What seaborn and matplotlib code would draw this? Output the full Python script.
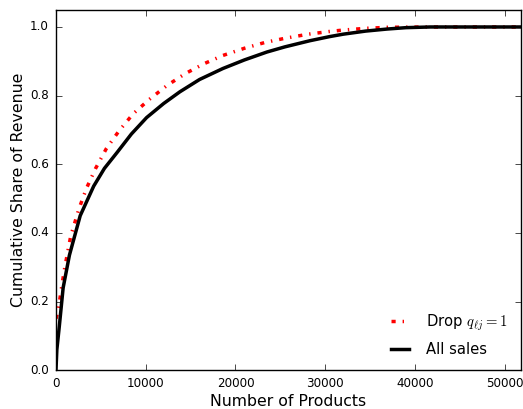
import numpy as np
import pandas as pd
import matplotlib
matplotlib.use('Agg')
import matplotlib.pyplot as plt
import seaborn as sns

# curves
all_x = [0, 100, 370, 800, 1500, 2700, 4200, 5400, 6800, 8400, 10100, 12000, 13800, 16000, 18600, 21000, 23500, 25500, 28300, 30500, 32000, 34500, 36900, 39000, 41700, 45000, 51800]
all_y = [0.0, 0.06, 0.127, 0.24, 0.335, 0.45, 0.536, 0.588, 0.634, 0.688, 0.736, 0.777, 0.811, 0.847, 0.879, 0.904, 0.927, 0.942, 0.960, 0.972, 0.979, 0.988, 0.994, 0.998, 1.0, 1.0, 1.0]
drop_x = [0, 260, 640, 1000, 1640, 2560, 3400, 4420, 5600, 7020, 8600, 10400, 12400, 14400, 16500, 18600, 21000, 23300, 25500, 28100, 30500, 32000, 34500, 36900, 41000, 51800]
drop_y = [0.15, 0.176, 0.244, 0.302, 0.39, 0.47, 0.53, 0.588, 0.645, 0.697, 0.747, 0.789, 0.830, 0.864, 0.893, 0.917, 0.938, 0.955, 0.967, 0.979, 0.987, 0.991, 0.996, 0.999, 1.0, 1.0]

plt.style.use('classic')
fig = plt.figure(figsize=(5.23, 4.09), dpi=100, facecolor='white')
ax = fig.add_axes([0.107, 0.095, 0.889, 0.881])
ax.set_facecolor('white')

drop = pd.DataFrame({'x': drop_x, 'y': drop_y})
alls = pd.DataFrame({'x': all_x, 'y': all_y})
sns.lineplot(data=drop, x='x', y='y', ax=ax, color='red', linewidth=2.5,
             linestyle='-.', label=r'Drop $q_{\ell j}=1$', estimator=None, sort=False)
sns.lineplot(data=alls, x='x', y='y', ax=ax, color='black', linewidth=2.5,
             label='All sales', estimator=None, sort=False)

ax.set_xlim(0, 51800)
ax.set_ylim(0, 1.05)
ax.set_xticks([0, 10000, 20000, 30000, 40000, 50000])
ax.set_yticks([0.0, 0.2, 0.4, 0.6, 0.8, 1.0])
ax.tick_params(labelsize=8.6, pad=5)
ax.set_xlabel('Number of Products', fontsize=11.3, labelpad=3)
ax.set_ylabel('Cumulative Share of Revenue', fontsize=11.3, labelpad=3)
ax.legend(loc='lower right', frameon=False, fontsize=10.6, handlelength=1.8,
          handletextpad=0.9, labelspacing=0.6)

fig.savefig('out.png', dpi=100, facecolor='white')
